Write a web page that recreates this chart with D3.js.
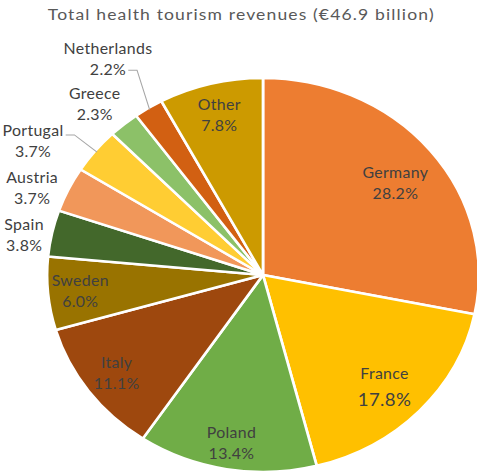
<!DOCTYPE html>
<html>
<head>
<meta charset="utf-8">
<script src="https://cdn.jsdelivr.net/npm/d3@7"></script>
<style>
  body { margin: 0; background: #fff; }
  text { font-family: Lato, "Noto Sans", sans-serif; }
</style>
</head>
<body>
<div id="chart"></div>
<script>
const title = 'Total health tourism revenues (€46.9 billion)';

const countries = ['Germany', 'France', 'Poland', 'Italy', 'Sweden', 'Spain',
                   'Austria', 'Portugal', 'Greece', 'Netherlands', 'Other'];
const shares = [28.2, 17.8, 13.4, 11.1, 6.0, 3.8, 3.7, 3.7, 2.3, 2.2, 7.8];
const sliceColors = ['#ED7D31', '#FFC000', '#70AD47', '#9E480E', '#997300', '#43682B',
                     '#F1975A', '#FFCD33', '#8CC168', '#D26012', '#CC9A00'];

// label placement: [fraction of radius, angle nudge in degrees]
const labelPlace = {
  Germany: [0.77, 2], France: [0.79, 1], Poland: [0.865, 0], Italy: [0.84, 0],
  Sweden: [0.85, 0], Other: [0.835, 0],
  Spain: [1.125, -1.8], Austria: [1.157, -3.3], Portugal: [1.264, -6.5],
  Greece: [1.166, -1.8], Netherlands: [1.31, -1.2]
};
const leaders = { Portugal: 0, Netherlands: 1 };   // which label line the leader starts from

const width = 477;
const height = 473;
const stretch = 1.096;          // reference pie is slightly wider than tall
const radius = 197;
const cx = 263 / stretch;
const cy = 275;

const data = countries.map((c, i) => ({ country: c, share: shares[i], color: sliceColors[i] }));

const svg = d3.select('#chart')
  .append('svg')
    .attr('width', width)
    .attr('height', height);

const root = svg.append('g')
  .attr('transform', `scale(${stretch},1)`);

root.append('text')
  .attr('x', width / 2 / stretch + 2)
  .attr('y', 20)
  .attr('text-anchor', 'middle')
  .attr('font-size', 16)
  .attr('fill', '#595959')
  .attr('textLength', 352)
  .attr('lengthAdjust', 'spacing')
  .text(title);

const pie = d3.pie()
  .sort(null)
  .value(d => d.share);

const arc = d3.arc()
  .innerRadius(0)
  .outerRadius(radius);

const g = root.append('g')
  .attr('transform', `translate(${cx},${cy})`);

const arcs = pie(data);

g.selectAll('.slice')
  .data(arcs)
  .enter()
    .append('path')
    .attr('class', 'slice')
    .attr('d', arc)
    .attr('fill', d => d.data.color)
    .attr('stroke', '#fff')
    .attr('stroke-width', 2.5)
    .attr('stroke-linejoin', 'round');

const polar = (k, a) => [Math.sin(a) * radius * k, -Math.cos(a) * radius * k];
const midAngle = d => (d.startAngle + d.endAngle) / 2;

const labelPos = d => {
  const [k, nudge] = labelPlace[d.data.country] || [0.82, 0];
  return polar(k, midAngle(d) + nudge * Math.PI / 180);
};

const labels = g.selectAll('.label')
  .data(arcs)
  .enter()
    .append('text')
    .attr('class', 'label')
    .attr('text-anchor', 'middle')
    .attr('fill', '#404040')
    .attr('font-size', 14.5)
    .attr('letter-spacing', 0.3);

labels.each(function (d) {
  const [x, y] = labelPos(d);
  const big = d.data.country === 'France';
  const t = d3.select(this);
  t.append('tspan')
    .attr('x', x)
    .attr('y', y - 5)
    .text(d.data.country);
  t.append('tspan')
    .attr('x', x)
    .attr('y', y + (big ? 22 : 16))
    .attr('font-size', big ? 17 : 14.5)
    .text(d.data.share.toFixed(1) + '%');
});

// leader lines for the labels pushed further out
labels.filter(d => d.data.country in leaders).each(function (d) {
  const [x, y] = labelPos(d);
  const line = leaders[d.data.country];
  const span = d3.select(this).selectAll('tspan').nodes()[line];
  const w = span.getComputedTextLength();
  const y0 = line === 0 ? y - 6 : y + 11;
  const x0 = x + w / 2 + 2;
  const end = polar(0.99, midAngle(d));
  g.append('path')
    .attr('d', d3.line()([[x0, y0], [x0 + 8, y0], end]))
    .attr('fill', 'none')
    .attr('stroke', '#a6a6a6')
    .attr('stroke-width', 1);
});
</script>
</body>
</html>
